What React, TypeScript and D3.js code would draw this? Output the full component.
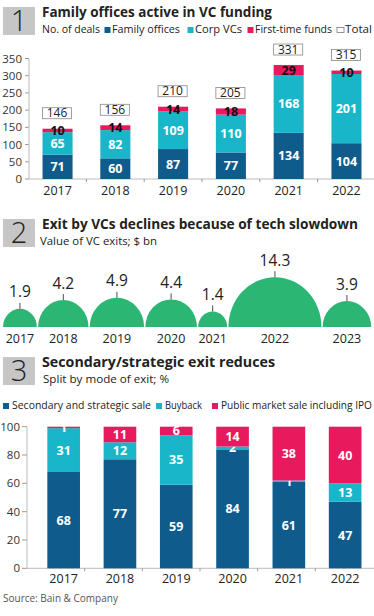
import * as d3 from "d3";

// ---- data ----
const years1 = ["2017", "2018", "2019", "2020", "2021", "2022"];
const familyOffices = [71, 60, 87, 77, 134, 104];
const corpVCs = [65, 82, 109, 110, 168, 201];
const firstTimeFunds = [10, 14, 14, 18, 29, 10];
const totals1 = [146, 156, 210, 205, 331, 315];
const yTicks1 = [0, 50, 100, 150, 200, 250, 300, 350];

const years2 = ["2017", "2018", "2019", "2020", "2021", "2022", "2023"];
const exitValues = [1.9, 4.2, 4.9, 4.4, 1.4, 14.3, 3.9];

const years3 = ["2017", "2018", "2019", "2020", "2021", "2022"];
const secondarySale = [68, 77, 59, 84, 61, 47];
const buyback = [31, 12, 35, 2, 1, 13];
const publicMarket = [1, 11, 6, 14, 38, 40];
const yTicks3 = [0, 20, 40, 60, 80, 100];

const DARK = "#0f5b8c";
const CYAN = "#19b6ca";
const PINK = "#e8195c";
const GREEN = "#2bb673";
const BOX = "#c6c6c6";
const INK = "#222";
const FONT = "'Open Sans', Lato, sans-serif";

function Header({ y, num, title, titleW, sub, subX, subW }: {
  y: number; num: string; title: string; titleW: number; sub?: string; subX?: number; subW?: number;
}) {
  return (
    <g>
      <rect x={3} y={y} width={32} height={28} fill={BOX} />
      <text x={19} y={y + 24} textAnchor="middle" fontSize={29} fontWeight={300} fill={INK}>{num}</text>
      <text x={42} y={y + 9.5} fontSize={15} fontWeight={700} fill={INK} textLength={titleW} lengthAdjust="spacingAndGlyphs">{title}</text>
      {sub ? (
        <text x={subX} y={y + 26} fontSize={11.5} fill={INK} textLength={subW} lengthAdjust="spacingAndGlyphs">{sub}</text>
      ) : null}
    </g>
  );
}

function Chart1() {
  const y = d3.scaleLinear().domain([0, 350]).range([179, 58.5]);
  const x = d3.scaleBand().domain(years1).range([29, 375]).paddingInner(0.48).paddingOuter(0.234);
  const series = [
    { vals: familyOffices, color: DARK, label: "#fff" },
    { vals: corpVCs, color: CYAN, label: "#fff" },
    { vals: firstTimeFunds, color: PINK, label: "#111" },
  ];
  const step = x.step();
  return (
    <g>
      {yTicks1.map((t) => (
        <g key={t}>
          <line x1={25} x2={29} y1={y(t)} y2={y(t)} stroke="#999" />
          <text x={22} y={y(t) + 4} textAnchor="end" fontSize={11.5} fill="#333">{t}</text>
        </g>
      ))}
      <line x1={29} x2={29} y1={y(350)} y2={y(0)} stroke="#bbb" />
      <line x1={29} x2={374} y1={y(0)} y2={y(0)} stroke="#bbb" />
      {years1.map((yr, i) => {
        let base = 0;
        const bx = x(yr) as number;
        const bw = x.bandwidth();
        const top = y(totals1[i]);
        return (
          <g key={yr}>
            {series.map((s, j) => {
              const v = s.vals[i];
              const y0 = y(base);
              const y1 = y(base + v);
              base += v;
              return (
                <g key={j}>
                  <rect x={bx} y={y1} width={bw} height={y0 - y1} fill={s.color} />
                  <text x={bx + bw / 2} y={(y0 + y1) / 2 + 4.5} textAnchor="middle" fontSize={12.5} fontWeight={700} fill={s.label}>{v}</text>
                </g>
              );
            })}
            <rect x={bx} y={top - 21} width={bw - 1} height={11} fill="#fff" stroke="#888" strokeWidth={0.8} />
            <text x={bx + bw / 2 - 0.5} y={top - 11.3} textAnchor="middle" fontSize={12} fill={INK}>{totals1[i]}</text>
            <line x1={bx + bw / 2 + step / 2} x2={bx + bw / 2 + step / 2} y1={y(0)} y2={y(0) + 3} stroke="#999" />
            <text x={bx + bw / 2} y={195} textAnchor="middle" fontSize={12.5} fill={INK}>{yr}</text>
          </g>
        );
      })}
    </g>
  );
}

function Chart2() {
  const base = 327;
  const stretch = 1.07;
  const r = d3.scaleSqrt().domain([0, d3.max(exitValues) as number]).range([0, 46.5]);
  const arc = d3.arc<unknown>()
    .innerRadius(0)
    .startAngle(-Math.PI / 2)
    .endAngle(Math.PI / 2);
  let cursor = 3;
  const items = exitValues.map((v, i) => {
    const rad = r(v);
    const cx = cursor + rad;
    cursor += 2 * rad + 1.2;
    return { v, rad, cx, yr: years2[i] };
  });
  return (
    <g>
      {items.map((d) => {
        const top = base - d.rad * stretch;
        return (
          <g key={d.yr}>
            <path
              d={arc({ outerRadius: d.rad } as any) as string}
              transform={`translate(${d.cx},${base}) scale(1,${stretch})`}
              fill={GREEN}
            />
            <line x1={d.cx} x2={d.cx} y1={top} y2={top - 6} stroke={INK} strokeWidth={0.8} />
            <text x={d.cx} y={top - 11.5} textAnchor="middle" fontSize={15.5} fill={INK}>{d.v}</text>
            <text x={d.cx} y={343} textAnchor="middle" fontSize={12.5} fill={INK}>{d.yr}</text>
          </g>
        );
      })}
    </g>
  );
}

function Chart3() {
  const y = d3.scaleLinear().domain([0, 100]).range([568.3, 426.7]);
  const x = d3.scaleBand().domain(years3).range([35.5, 373.3]).paddingInner(0.42).paddingOuter(0.21);
  const xt = d3.scaleBand().domain(years3).range([27, 373]);
  const series = [
    { vals: secondarySale, color: DARK, name: "Secondary and strategic sale" },
    { vals: buyback, color: CYAN, name: "Buyback" },
    { vals: publicMarket, color: PINK, name: "Public market sale including IPO" },
  ];
  const legendX = [3, 156, 212];
  const legendW = [139, 37, 151];
  return (
    <g>
      {series.map((s, j) => (
        <g key={s.name}>
          <rect x={legendX[j]} y={403} width={6} height={6} fill={s.color} />
          <text x={legendX[j] + 9} y={409} fontSize={11.5} fill={INK} textLength={legendW[j]} lengthAdjust="spacingAndGlyphs">{s.name}</text>
        </g>
      ))}
      {yTicks3.map((t) => (
        <g key={t}>
          <line x1={22} x2={27} y1={y(t)} y2={y(t)} stroke="#999" />
          <text x={20} y={y(t) + 4} textAnchor="end" fontSize={11.5} fill="#333">{t}</text>
        </g>
      ))}
      <line x1={27} x2={27} y1={y(100)} y2={y(0)} stroke="#bbb" />
      <line x1={27} x2={374} y1={y(0)} y2={y(0)} stroke="#bbb" />
      {years3.slice(1).map((yr) => (
        <line key={yr} x1={xt(yr)} x2={xt(yr)} y1={y(0)} y2={y(0) + 3} stroke="#999" />
      ))}
      {years3.map((yr, i) => {
        let base = 0;
        const bx = x(yr) as number;
        const bw = x.bandwidth();
        return (
          <g key={yr}>
            {series.map((s, j) => {
              const v = s.vals[i];
              const y0 = y(base);
              const y1 = y(base + v);
              base += v;
              return (
                <g key={j}>
                  <rect x={bx} y={y1} width={bw} height={y0 - y1} fill={s.color} />
                  <text x={bx + bw / 2} y={(y0 + y1) / 2 + 4.5} textAnchor="middle" fontSize={12.5} fontWeight={700} fill="#fff">{v}</text>
                </g>
              );
            })}
            <text x={bx + bw / 2} y={583} textAnchor="middle" fontSize={12.5} fill={INK}>{yr}</text>
          </g>
        );
      })}
      <text x={3} y={602} fontSize={10} fill="#555">Source: Bain &amp; Company</text>
    </g>
  );
}

const legend1 = [
  { x: 42, w: 58, text: "No. of deals", sq: null as string | null },
  { x: 112, w: 68, text: "Family offices", sq: DARK },
  { x: 195, w: 47, text: "Corp VCs", sq: CYAN },
  { x: 255, w: 77, text: "First-time funds", sq: PINK },
  { x: 345, w: 27, text: "Total", sq: "none" },
];

export default function App() {
  return (
    <svg
      width={374}
      height={616}
      viewBox="0 0 374 616"
      style={{ position: "absolute", left: 0, top: 0, background: "#fff" }}
      fontFamily={FONT}
    >
      <Header y={7} num="1" title="Family offices active in VC funding" titleW={230} />
      {legend1.map((l) => (
        <g key={l.text}>
          {l.sq === "none" ? (
            <rect x={l.x - 8} y={27.5} width={7} height={5} fill="#fff" stroke="#666" strokeWidth={0.7} />
          ) : l.sq ? (
            <rect x={l.x - 7.5} y={27} width={6} height={6} fill={l.sq} />
          ) : null}
          <text x={l.x} y={33} fontSize={11.5} fill={INK} textLength={l.w} lengthAdjust="spacingAndGlyphs">{l.text}</text>
        </g>
      ))}
      <Chart1 />
      <Header y={219} num="2" title="Exit by VCs declines because of tech slowdown" titleW={316}
        sub="Value of VC exits; $ bn" subX={40} subW={117} />
      <Chart2 />
      <Header y={357} num="3" title="Secondary/strategic exit reduces" titleW={233}
        sub="Split by mode of exit; %" subX={43} subW={126} />
      <Chart3 />
    </svg>
  );
}
